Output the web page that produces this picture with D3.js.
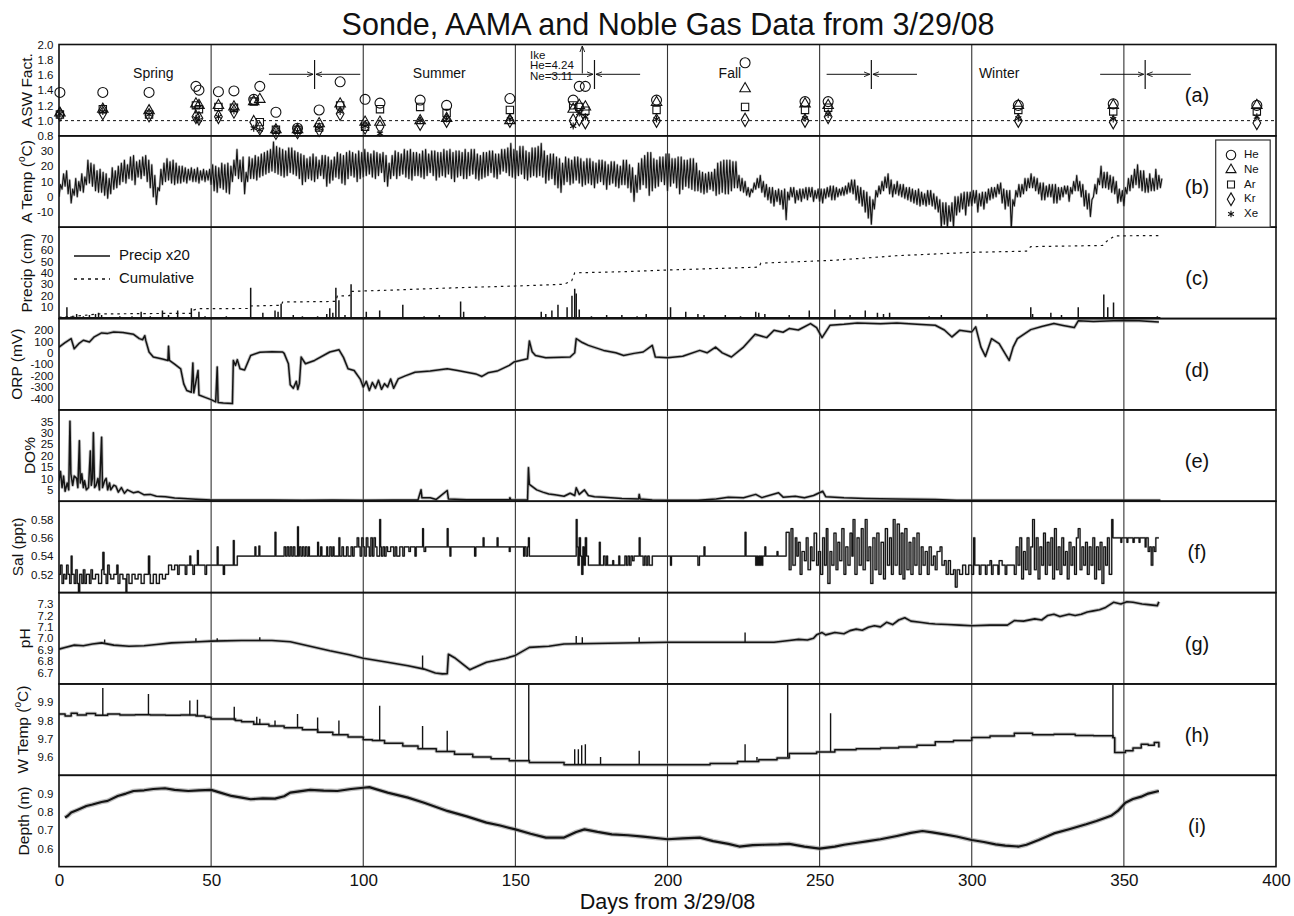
<!DOCTYPE html>
<html><head><meta charset="utf-8">
<script src="https://cdn.jsdelivr.net/npm/d3@7"></script>
<style>
body{margin:0;background:#fff}
text{font-family:"Liberation Sans",Arial,Helvetica,sans-serif;fill:#111}
</style></head>
<body><svg id="c" width="1294" height="916"></svg>
<script>
// ---------------- DATA ----------------
const title = "Sonde, AAMA and Noble Gas Data from 3/29/08";
const xTitle = "Days from 3/29/08";
const xTicks = [0,50,100,150,200,250,300,350,400];
const gridDays = [50,100,150,200,250,300,350];
const panelLetters = ["(a)","(b)","(c)","(d)","(e)","(f)","(g)","(h)","(i)"];

const ticksASW = [0.8,1.0,1.2,1.4,1.6,1.8,2.0];
const ticksATemp = [-10,0,10,20,30];
const ticksPrecip = [10,20,30,40,50,60,70];
const ticksORP = [-400,-300,-200,-100,0,100,200];
const ticksDO = [5,10,15,20,25,30,35];
const ticksSal = [0.52,0.54,0.56,0.58];
const ticksPH = [6.7,6.8,6.9,7.0,7.1,7.2,7.3];
const ticksWTemp = [9.6,9.7,9.8,9.9];
const ticksDepth = [0.6,0.7,0.8,0.9];

// (a) noble gas ASW factors
const aswDays = [0.3,14.4,29.6,45,46,52.4,57.5,64,66,71.3,78.4,85.5,92.4,100.6,105.5,118.7,127.4,148.2,169,171,173,196.4,225.5,245.2,252.8,315.3,346.5,393.7];
const aswHe = [1.37,1.37,1.37,1.45,1.40,1.38,1.39,1.28,1.45,1.11,0.90,1.14,1.51,1.28,1.23,1.27,1.20,1.29,1.27,1.45,1.45,1.27,1.76,1.25,1.25,1.20,1.22,1.20];
const aswNe = [1.10,1.15,1.13,1.22,1.20,1.20,1.18,1.25,1.28,0.88,0.88,0.96,1.22,0.98,0.98,1.00,1.03,1.00,1.15,1.20,1.18,1.24,1.42,1.22,1.20,1.20,1.20,1.20];
const aswAr = [1.08,1.15,1.08,1.20,1.15,1.18,1.17,1.25,0.98,0.88,0.88,0.91,1.20,0.92,1.15,1.18,1.10,1.14,1.20,1.18,1.13,1.14,1.18,1.14,1.17,1.14,1.12,1.12];
const aswKr = [1.08,1.10,1.07,1.05,1.03,1.05,1.12,0.98,0.90,0.84,0.85,0.88,1.09,0.91,0.92,0.96,1.00,1.00,1.00,1.02,0.98,1.00,1.01,1.00,1.05,1.00,0.98,0.97];
const aswXe = [1.09,1.12,1.08,1.03,1.01,1.05,1.13,0.90,0.88,0.85,0.86,0.90,1.12,0.93,0.83,1.00,1.02,1.02,0.93,1.10,1.05,1.02,null,1.03,1.08,1.03,1.02,1.05];
const gasNames = ["He","Ne","Ar","Kr","Xe"];
const seasonNames = ["Spring","Summer","Fall","Winter"];
const seasonNameDays = [31,125,220.5,309];
const seasonMarkDays = [84,176,267,357];
const seasonMarkFrom = [69,161.4,252.3,342.2];
const seasonMarkTo = [99,191,282,372];
const ikeDay = 172;
const ikeText = ["Ike","He=4.24","Ne=3.11"];

// (b) air temperature: daily highs and lows, day 0..362
const airTempHigh = [
8,15,17,11,5,12,10,15,13,24,
22,21,17,18,16,15,12,19,17,20,
22,24,21,26,27,23,24,26,27,24,
21,14,6,18,22,25,23,24,22,20,
20,19,18,19,18,19,17,18,17,18,
21,20,19,22,21,22,20,24,31,24,
26,16,26,25,27,26,28,29,30,31,
36,33,32,31,30,32,32,30,29,28,
27,25,26,28,26,24,27,27,26,24,
26,29,28,27,29,30,29,28,30,29,
31,29,28,30,29,28,29,27,22,27,
30,29,28,31,30,31,29,29,28,30,
31,28,30,30,29,29,31,30,31,29,
30,30,29,31,29,31,31,28,27,29,
29,30,30,28,28,31,31,32,35,31,
30,33,33,30,29,32,32,33,35,30,
27,28,28,26,25,22,26,25,24,26,
26,25,23,25,25,23,22,24,24,23,
21,23,23,21,20,24,24,21,19,14,
22,25,27,29,29,25,24,26,26,28,
28,25,25,26,26,24,24,25,25,22,
17,16,15,16,16,18,22,23,24,24,
24,23,23,14,12,10,6,5,9,12,
14,10,8,6,6,4,5,4,5,3,
6,6,4,5,5,6,6,6,4,5,
5,5,6,7,7,6,5,6,7,9,
11,11,7,6,4,3,0,-2,4,7,
10,13,15,11,8,10,8,8,6,6,
5,4,5,3,2,4,4,2,0,-2,
-4,-4,-6,-4,0,0,2,3,3,3,
4,4,2,3,3,5,6,6,8,9,
5,4,4,-2,4,8,8,12,12,15,
13,12,9,9,7,8,8,8,6,6,
7,7,6,10,14,10,8,4,2,-2,
8,12,20,16,16,14,13,10,5,4,
6,12,14,18,21,17,17,12,15,12,
18,14,12];
const airTempLow = [
0,5,7,2,-4,1,0,4,3,8,
9,7,4,3,3,1,-1,2,5,6,
8,10,9,12,11,8,13,12,14,10,
6,0,-5,4,8,10,11,9,8,9,
9,10,9,11,10,10,9,11,10,11,
8,4,3,6,5,3,2,10,14,12,
10,2,10,12,12,11,13,14,15,16,
17,16,15,14,13,14,16,15,14,12,
8,10,12,11,10,12,14,12,7,9,
11,13,12,9,8,12,14,13,10,12,
13,14,15,13,12,14,16,10,7,12,
14,12,14,15,13,12,11,14,14,13,
12,14,16,14,11,13,14,13,15,12,
10,13,14,12,12,14,15,12,11,12,
13,14,16,13,12,15,17,16,14,13,
12,14,15,12,11,13,14,13,14,13,
9,11,12,8,6,3,8,10,8,9,
11,9,7,8,9,8,6,9,10,8,
5,8,9,7,6,8,8,6,3,-3,
3,5,8,6,1,4,6,7,10,8,
4,7,9,6,2,5,7,6,5,4,
4,3,2,3,5,4,1,2,3,2,
2,4,6,6,4,3,1,0,3,5,
6,3,0,-2,-4,-6,-3,-5,-8,-15,
-2,0,-4,-2,-3,-1,-2,0,-3,-1,
-3,-4,-1,0,-2,-2,0,1,1,2,
3,2,-2,-4,-6,-10,-14,-18,-8,0,
2,4,6,2,0,2,1,0,-1,-2,
-3,-4,-5,-6,-5,-6,-5,-6,-8,-10,
-20,-18,-20,-16,-20,-12,-10,-8,-12,-6,
-6,-4,-10,-6,-8,-4,-2,-1,0,2,
-4,-8,-6,-21,-6,0,0,2,4,6,
6,4,2,-2,-2,0,0,-4,-4,-2,
0,2,-3,2,4,4,0,-6,-8,-13,
0,2,8,6,6,5,3,2,-4,-3,
-6,2,4,6,8,6,4,3,3,4,
4,5,6];

// (c) precipitation x20 spikes [day, cm] and cumulative [day, cm]
const precipSpikes = [[2.6,10],[4,2],[5.8,4],[8,2],[10,3],[12,4],[13,5],[14,3],[20,2],[24,2],[27,6],[30,2],[34,7],[36,3],[39,7],[43.5,9],[46,6],[48,2],[55,2],[63,27],[67,5],[71,7],[72,6],[73,13],[77,3],[80,2],[85,2],[88,4],[89,9],[90,5],[91,27],[92,16],[94,3],[96,30],[101,6],[105.4,7],[113,12],[120,2],[125,3],[132,15],[133,6],[140,2],[150,2],[158.5,6],[160,4],[162,7],[164,12],[167,10],[168.6,20],[169.5,26],[170,22],[171,8],[175,2],[180,3],[185,3],[190,2],[193,4],[201,10],[206,6],[210,4],[212,3],[219,3],[224,2],[229,6],[230,5],[232,4],[240,3],[246.6,7],[255,8],[260,3],[265,7],[269,5],[271,4],[273,5],[286,2],[290,3],[305,4],[319.4,10],[320,4],[326,5],[329.5,3],[335,10],[343.4,21],[344.7,10],[346.6,14],[361,2]];
const precipCumulative = [[0,1],[5,2],[13,4],[30,4.4],[43.5,4.6],[44,7.3],[46,8.7],[62.5,8.8],[63,11],[73,11.6],[73.5,14.5],[91,15],[91.5,19.8],[95.5,20],[96,23.8],[110,25],[131,27],[150,28.5],[166,30],[168.5,33],[169.5,40],[185,41],[200,42.5],[230,45],[230.7,48.5],[254.7,51],[265,53],[275,55],[300,58],[318,59],[319.4,63],[343,64],[344.5,68],[347,72.4],[361.5,72.7]];
const legendC = ["Precip x20","Cumulative"];

// (d) ORP [day, mV]
const orp = [[0,50],[2,90],[4,124],[5,36],[6.5,80],[8,110],[10,95],[11.6,140],[14,174],[16,170],[18,183],[21,178],[24.5,162],[26.4,124],[27.5,115],[28.2,150],[28.5,110],[29.6,7],[31,-37],[34,-55],[35.8,-67],[36,57],[36.3,-67],[38,-100],[40,-140],[41,-272],[42,-330],[43.5,-345],[44,-90],[44.3,-350],[45.7,-155],[46,-370],[48,-390],[50,-410],[51.5,-430],[52,-125],[52.3,-435],[54,-440],[57,-445],[57.3,-67],[58,-110],[58.6,-60],[59.5,-140],[61,-150],[63,-23],[66,5],[70,10],[73.5,7],[74,-5],[75.4,-96],[76,-280],[77,-310],[78,-250],[78.5,-320],[79,-270],[79.6,-37],[81,-96],[84,-67],[89,7],[92,27],[93.5,-40],[95,-140],[97,-155],[99,-230],[100,-300],[101,-250],[102,-330],[103,-260],[104,-310],[105,-240],[106,-320],[107,-270],[108,-300],[109,-230],[110,-310],[111.5,-228],[114,-200],[117,-170],[122,-160],[127.6,-140],[131,-155],[134,-170],[137,-185],[139,-207],[141,-175],[144,-160],[148,-110],[149.5,-81],[154,-52],[154.6,103],[155.5,10],[156.6,-23],[160,-43],[168,-37],[169.5,0],[170,124],[172,90],[174,65],[179,21],[183,0],[185.6,-23],[189,-5],[192,7],[195,65],[196,-37],[200,-43],[205,-30],[210.6,21],[213,0],[215.8,50],[218,0],[221,-37],[225,50],[228.8,162],[232.6,133],[235,197],[238,180],[240,212],[243,200],[247,256],[249,220],[250.8,133],[253.4,241],[258,250],[262.4,262],[270,255],[275.4,262],[282,250],[288,241],[291,200],[293.5,139],[296,197],[300,183],[301.3,227],[303,50],[304.5,-31],[306.5,124],[309,80],[312.3,-67],[313.6,50],[315,124],[319.4,203],[323,230],[327,256],[330,240],[333.7,221],[335,280],[340,275],[346.6,280],[350,282],[355,280],[361.5,270]];

// (e) dissolved oxygen % [day, %]
const doPct = [[0,9],[0.5,13],[1,6],[1.5,11],[2,4.4],[2.7,8],[3.2,5],[3.6,35],[3.9,12],[4.5,7],[5,11],[5.8,10],[6.2,6],[6.7,26.5],[7,8],[7.5,12],[8,6],[8.4,9],[9,5],[9.7,6],[10.3,22],[10.6,7],[11,10],[11.3,30],[11.7,6],[12.2,7],[12.8,10],[13.3,5],[14,28],[14.3,6],[15,9],[15.5,10],[16,5],[16.6,8],[17,5],[18,7],[18.7,6.6],[19.5,4],[20.5,6],[21.5,3.5],[22.5,5],[24.5,3.7],[26,4.2],[28,2.8],[30,3],[32,2.2],[35,2],[38,1.4],[41,1.2],[45,0.9],[50,0.6],[60,0.5],[70,0.5],[80,0.4],[90,0.5],[100,0.4],[110,0.5],[118,0.6],[119,5],[119.3,1.5],[122,1.5],[124,0.8],[127.6,4.7],[128,1],[134,0.7],[140,0.7],[148,0.7],[148.2,1.5],[148.5,0.7],[154,0.6],[154.3,14.7],[154.6,7.4],[155.5,6.5],[157,5],[159,4],[161,3.2],[163,2.8],[166,2.2],[168,3.5],[169.5,2.5],[170,5.9],[171,3],[172.7,5],[174,2.5],[176,2],[179,1.8],[185,1.2],[190.5,1],[190.7,3],[191,1],[195,0.6],[200,0.4],[210,0.4],[216,1],[220,1.8],[225,1.5],[229,3],[231,1.6],[236.5,3.7],[238,1.8],[242,2.2],[245,1.5],[248,2.5],[251,4.4],[252,2],[258,1.5],[265,1.2],[275,1],[288,0.8],[295,0.4],[330,0.4],[362,0.4]];

// (f) salinity [day, ppt] (step series)
const sal = [[0,0.52],[0.5,0.53],[1,0.51],[1.5,0.52],[2,0.515],[2.5,0.53],[3,0.52],[3.5,0.51],[4,0.54],[4.3,0.52],[5,0.51],[5.5,0.525],[6,0.51],[6.4,0.50],[6.8,0.52],[7.5,0.51],[8,0.525],[8.5,0.51],[9,0.52],[10,0.51],[10.5,0.525],[11,0.515],[12,0.52],[13,0.51],[14,0.525],[14.4,0.544],[14.8,0.52],[15.5,0.51],[16,0.53],[16.5,0.52],[17,0.515],[18,0.52],[19,0.53],[19.4,0.51],[20,0.52],[21,0.515],[22,0.501],[22.3,0.52],[23,0.51],[24,0.52],[25,0.515],[26,0.52],[27,0.51],[28,0.52],[29.4,0.54],[29.8,0.52],[30,0.51],[31,0.52],[32,0.51],[33,0.52],[34,0.515],[35,0.52],[36,0.53],[37,0.525],[38,0.53],[39,0.52],[39.5,0.53],[41,0.53],[41.5,0.52],[42,0.53],[43,0.54],[43.3,0.53],[44,0.52],[44.5,0.53],[45.5,0.546],[45.8,0.53],[47,0.53],[48,0.52],[48.5,0.53],[50,0.53],[52,0.55],[52.3,0.53],[54,0.52],[54.4,0.53],[57.3,0.557],[57.6,0.53],[58.6,0.54],[64.4,0.55],[64.7,0.54],[65.7,0.551],[66,0.54],[71,0.566],[71.3,0.54],[74,0.55],[74.5,0.54],[75,0.55],[75.5,0.54],[76,0.55],[76.5,0.54],[77,0.55],[77.5,0.54],[78.4,0.572],[78.7,0.54],[79,0.55],[79.5,0.54],[80,0.55],[80.5,0.54],[81,0.55],[81.5,0.54],[82,0.55],[82.3,0.54],[85,0.555],[85.3,0.54],[86,0.55],[86.4,0.54],[88,0.55],[88.3,0.54],[89,0.55],[89.5,0.54],[90,0.55],[90.4,0.54],[92,0.56],[92.3,0.54],[93,0.55],[93.5,0.54],[94.5,0.55],[95,0.54],[96,0.55],[96.5,0.54],[97,0.55],[98,0.56],[98.5,0.55],[99,0.54],[99.5,0.56],[100,0.55],[100.5,0.54],[101,0.56],[101.5,0.55],[102,0.54],[102.5,0.56],[103,0.54],[103.5,0.56],[104,0.55],[104.5,0.54],[105.4,0.58],[105.7,0.55],[106,0.54],[106.5,0.55],[107,0.54],[107.5,0.55],[108,0.545],[109,0.55],[110,0.54],[110.5,0.55],[111,0.54],[112,0.55],[113,0.54],[113.5,0.55],[115,0.545],[115.5,0.55],[117,0.54],[117.4,0.55],[119.5,0.57],[119.8,0.55],[120,0.545],[120.5,0.55],[127.6,0.57],[127.9,0.55],[128.5,0.54],[128.8,0.55],[136.6,0.54],[137,0.55],[139.4,0.56],[139.7,0.55],[144,0.56],[144.3,0.55],[148,0.545],[148.3,0.55],[152.7,0.54],[153,0.55],[153.5,0.54],[154,0.55],[154.3,0.56],[154.6,0.54],[170,0.58],[170.3,0.55],[170.6,0.53],[171,0.56],[171.4,0.54],[171.8,0.52],[172.2,0.55],[172.6,0.53],[173,0.56],[173.4,0.54],[174,0.53],[177.6,0.555],[177.9,0.53],[179,0.54],[179.5,0.53],[180,0.54],[180.3,0.53],[182,0.535],[182.3,0.53],[184,0.54],[184.3,0.53],[186,0.54],[186.5,0.53],[187,0.54],[187.5,0.53],[188,0.54],[188.5,0.535],[189,0.54],[190.7,0.56],[191,0.54],[192,0.53],[192.5,0.54],[193,0.53],[193.5,0.54],[194,0.53],[195,0.54],[200,0.54],[201,0.53],[201.3,0.54],[210,0.53],[210.5,0.54],[212,0.55],[212.3,0.54],[225.5,0.566],[225.8,0.54],[229,0.53],[229.3,0.54],[229.6,0.53],[230,0.54],[230.3,0.53],[230.6,0.54],[231,0.53],[231.3,0.54],[232,0.55],[232.3,0.54],[236,0.545],[236.3,0.54],[239,0.566],[240,0.525],[240.6,0.57],[241.2,0.53],[242,0.56],[242.5,0.54],[243,0.555],[243.6,0.52],[244.2,0.545],[245,0.535],[245.6,0.56],[246.2,0.525],[247,0.55],[247.5,0.535],[248.2,0.565],[249,0.53],[249.6,0.545],[250.3,0.52],[251,0.56],[251.6,0.53],[252.2,0.57],[252.7,0.51],[253.4,0.545],[254,0.53],[254.7,0.565],[255.4,0.525],[256,0.555],[256.6,0.535],[257.3,0.57],[258,0.52],[258.6,0.55],[259.3,0.53],[260,0.565],[260.6,0.54],[261,0.58],[261.6,0.52],[262.3,0.56],[263,0.53],[263.7,0.57],[264.3,0.525],[265,0.58],[265.6,0.535],[266.2,0.55],[266.8,0.51],[267.5,0.56],[268.2,0.525],[268.8,0.565],[269.5,0.52],[270.2,0.555],[271,0.515],[271.6,0.57],[272.3,0.53],[273,0.56],[273.6,0.52],[274.2,0.58],[274.8,0.53],[275.5,0.575],[276.2,0.52],[276.8,0.565],[277.4,0.515],[278,0.57],[278.7,0.525],[279.4,0.555],[280,0.52],[280.7,0.56],[281.3,0.53],[282,0.565],[282.7,0.52],[283.4,0.55],[284,0.53],[284.7,0.545],[285.4,0.52],[286,0.55],[286.7,0.53],[287.4,0.54],[288,0.525],[288.6,0.545],[289.6,0.55],[290.2,0.53],[291,0.535],[291.6,0.52],[292.3,0.535],[293,0.52],[294,0.525],[294.6,0.506],[295.2,0.525],[296,0.52],[297,0.53],[298,0.52],[299,0.53],[300,0.52],[300.6,0.56],[301,0.53],[302,0.53],[302.5,0.52],[303,0.53],[304,0.53],[304.5,0.52],[305,0.53],[306,0.535],[306.5,0.52],[307,0.53],[308,0.53],[308.6,0.52],[309,0.535],[310,0.53],[311,0.52],[311.5,0.53],[314,0.52],[314.6,0.55],[315.2,0.53],[315.8,0.56],[316.4,0.515],[317,0.545],[317.6,0.525],[318.2,0.56],[318.8,0.52],[319.4,0.55],[320,0.58],[320.6,0.525],[321.2,0.56],[321.8,0.515],[322.4,0.55],[323,0.53],[323.6,0.565],[324.2,0.52],[324.8,0.555],[325.4,0.53],[326,0.56],[326.6,0.515],[327.2,0.57],[327.8,0.525],[328.4,0.55],[329,0.52],[329.6,0.56],[330.2,0.53],[330.8,0.545],[331.4,0.515],[332,0.555],[332.6,0.53],[333.2,0.55],[333.8,0.52],[334.4,0.56],[335,0.57],[335.6,0.525],[336.2,0.55],[336.8,0.53],[337.4,0.555],[338,0.52],[338.6,0.55],[339.2,0.53],[339.8,0.56],[340.4,0.515],[341,0.55],[341.6,0.525],[342.2,0.555],[342.8,0.51],[343.4,0.55],[344,0.53],[344.6,0.56],[345.2,0.52],[346,0.58],[346.4,0.56],[349,0.555],[349.3,0.56],[351,0.555],[351.3,0.56],[353,0.555],[353.4,0.56],[355,0.555],[355.3,0.56],[357,0.55],[357.3,0.56],[358,0.545],[358.5,0.55],[359,0.53],[359.5,0.55],[360,0.545],[360.5,0.56],[361.5,0.56]];

// (g) pH [day, pH] and spikes [day, base, peak]
const ph = [[0,6.905],[2,6.92],[5,6.94],[8,6.935],[11,6.95],[14,6.96],[18,6.94],[23,6.93],[28,6.935],[32,6.945],[37,6.96],[42,6.965],[46,6.97],[50,6.975],[60,6.98],[70,6.98],[76,6.97],[82.5,6.93],[89,6.89],[95.4,6.855],[100,6.825],[108,6.79],[114.7,6.76],[120,6.73],[123.7,6.696],[126,6.688],[127.6,6.69],[128,6.86],[130,6.83],[135,6.725],[140.5,6.79],[147,6.825],[150,6.85],[154.6,6.92],[161,6.93],[166,6.95],[200,6.965],[235,6.965],[240,6.98],[243,6.99],[246,6.985],[248,7.0],[249,7.03],[250.8,7.05],[252,7.03],[255,7.05],[258,7.04],[260,7.067],[262,7.08],[264,7.07],[266,7.096],[268,7.11],[270,7.1],[272,7.14],[274,7.12],[276,7.16],[278,7.18],[280,7.15],[283,7.14],[286,7.13],[288,7.125],[292,7.12],[296,7.115],[300,7.11],[306,7.115],[311.7,7.115],[314,7.155],[317,7.15],[320.7,7.17],[323,7.16],[325,7.2],[327,7.21],[329,7.19],[332,7.21],[334,7.2],[336,7.21],[338,7.23],[340,7.24],[342,7.25],[344,7.27],[346.6,7.315],[349,7.3],[351,7.32],[353,7.315],[356,7.3],[358,7.295],[361,7.286],[361.5,7.32]];
const phSpikes = [[15,6.96,6.99],[45,6.97,7.0],[52,6.975,7.0],[66,6.98,7.01],[119.5,6.73,6.85],[170,6.955,7.02],[172,6.955,7.01],[190.7,6.96,7.01],[225.5,6.965,7.05]];

// (h) water temperature [day, °C] and spikes [day, base, peak]
const wTemp = [[0,9.835],[2,9.825],[4,9.84],[6,9.83],[9,9.838],[12,9.828],[16,9.835],[20,9.83],[25,9.832],[30,9.83],[35,9.828],[40,9.83],[45,9.825],[48,9.818],[50,9.808],[58,9.8],[60,9.793],[64,9.78],[69,9.77],[74,9.76],[80,9.75],[85,9.735],[90,9.722],[95,9.71],[100,9.695],[103,9.69],[107,9.676],[113,9.66],[118,9.645],[124,9.63],[130,9.615],[136,9.6],[142,9.59],[148,9.58],[154.6,9.57],[166,9.558],[212,9.558],[214,9.565],[223,9.575],[230,9.585],[236,9.595],[240,9.62],[249,9.628],[255,9.64],[262,9.645],[270,9.65],[276,9.655],[282,9.665],[288,9.683],[294,9.69],[300,9.707],[306,9.715],[314,9.73],[320,9.722],[327,9.725],[334,9.718],[340,9.716],[346.4,9.705],[347,9.625],[350.5,9.634],[353,9.65],[355.7,9.67],[358,9.665],[360,9.68],[361.5,9.652]];
const wTempSpikes = [[14.4,9.83,9.978],[29.4,9.83,9.945],[43,9.828,9.91],[45.5,9.825,9.914],[57.6,9.8,9.875],[65,9.78,9.82],[66,9.78,9.81],[71,9.77,9.80],[78.4,9.76,9.835],[85,9.735,9.817],[92,9.722,9.8],[105.4,9.69,9.88],[119.5,9.645,9.77],[127.6,9.63,9.744],[154.4,9.58,9.995],[169.5,9.558,9.643],[170.7,9.558,9.643],[171.8,9.558,9.665],[173,9.558,9.67],[178,9.558,9.6],[190.7,9.558,9.634],[225.5,9.575,9.67],[229.4,9.58,9.6],[239.5,9.6,9.995],[253.6,9.628,9.84],[346.4,9.705,9.995]];

// (i) depth [day, m]
const depth = [[2,0.768],[3,0.78],[4,0.796],[6,0.81],[9,0.832],[11,0.84],[14,0.854],[16,0.86],[19.3,0.887],[22,0.9],[24.5,0.914],[28,0.918],[31,0.925],[34.8,0.929],[38,0.92],[42.5,0.914],[46,0.918],[50,0.92],[53,0.905],[56.7,0.887],[60,0.878],[63,0.869],[67,0.874],[71,0.872],[74,0.885],[76,0.905],[79,0.912],[82.5,0.92],[87,0.916],[91.5,0.914],[96,0.925],[100,0.932],[102,0.935],[104.4,0.923],[108,0.905],[114.7,0.878],[120,0.85],[127.6,0.805],[134,0.775],[140.5,0.741],[145,0.725],[150,0.704],[155,0.68],[160,0.659],[166,0.659],[170,0.69],[172.7,0.704],[177,0.69],[181.7,0.677],[187,0.672],[192,0.664],[200,0.65],[205,0.655],[210.6,0.659],[215,0.64],[220,0.625],[223.6,0.61],[228,0.618],[232,0.62],[236.5,0.622],[240,0.625],[245,0.61],[250,0.599],[255,0.61],[258,0.62],[262.4,0.631],[266,0.64],[270,0.65],[275.4,0.668],[280,0.685],[283.8,0.695],[287,0.688],[291,0.677],[295,0.665],[300,0.646],[304,0.635],[307.8,0.622],[311,0.615],[315.5,0.61],[318,0.62],[322,0.646],[327,0.682],[332,0.705],[337.6,0.732],[341,0.75],[344,0.768],[346,0.78],[348,0.805],[350.5,0.85],[353,0.87],[355.7,0.883],[358,0.9],[361.5,0.914]];

// ---------------- LAYOUT ----------------
const svg = d3.select("#c");
const L = 59, R = 1276, T = 44.5, PH = 91.35, NP = 9;
const B = T + PH*NP;
const x = d3.scaleLinear().domain([0,400]).range([L,R]);
const domains = [[0.8,2.0],[-20,40],[0,80],[-500,300],[0,40],[0.5,0.6],[6.6,7.4],[9.5,10.0],[0.5,1.0]];
const tickSets = [ticksASW,ticksATemp,ticksPrecip,ticksORP,ticksDO,ticksSal,ticksPH,ticksWTemp,ticksDepth];
const fmts = [d=>d.toFixed(1),d=>String(d),d=>String(d),d=>String(d),d=>String(d),d=>d.toFixed(2),d=>d.toFixed(1),d=>d.toFixed(1),d=>d.toFixed(1)];
const yLabelX = [27.5,28,27.5,17.5,31,19,26,24,25];
const pTop = i => T + i*PH;
const ys = domains.map((dm,i)=>d3.scaleLinear().domain(dm).range([pTop(i)+PH, pTop(i)]));

const defs = svg.append("defs");
for(let i=0;i<NP;i++){
  defs.append("clipPath").attr("id","cp"+i).append("rect")
    .attr("x",L).attr("y",pTop(i)).attr("width",R-L).attr("height",PH);
}
const mk = defs.append("marker").attr("id","arr").attr("viewBox","0 0 10 10").attr("refX",10).attr("refY",5)
  .attr("markerWidth",6).attr("markerHeight",6).attr("orient","auto-start-reverse");
mk.append("path").attr("d","M0,1 L10,5 L0,9").attr("fill","none").attr("stroke","#111").attr("stroke-width",1.5);

svg.append("text").attr("x",668).attr("y",35).attr("text-anchor","middle")
  .style("font-size","30.5px").text(title);

svg.append("g").selectAll("line").data(gridDays).join("line")
  .attr("x1",d=>x(d)).attr("x2",d=>x(d)).attr("y1",T).attr("y2",B)
  .attr("stroke","#333").attr("stroke-width",1.1);

const lineOf = (ys_, curve) => d3.line().x(d=>x(d[0])).y(d=>ys_(d[1])).curve(curve||d3.curveLinear);

function drawSeries(i, data, core, halo, curve){
  const g = svg.append("g").attr("clip-path",`url(#cp${i})`);
  const ln = lineOf(ys[i], curve);
  g.append("path").datum(data).attr("d",ln).attr("fill","none")
    .attr("stroke","#8a8a8a").attr("stroke-width",halo).attr("stroke-opacity",0.55).attr("stroke-linejoin","round");
  g.append("path").datum(data).attr("d",ln).attr("fill","none")
    .attr("stroke","#141414").attr("stroke-width",core).attr("stroke-linejoin","round");
  return g;
}
function drawSpikes(i, spikes){
  const g = svg.append("g").attr("clip-path",`url(#cp${i})`);
  g.selectAll("line").data(spikes).join("line")
    .attr("x1",d=>x(d[0])).attr("x2",d=>x(d[0]))
    .attr("y1",d=>ys[i](d[1])).attr("y2",d=>ys[i](d[2]))
    .attr("stroke","#141414").attr("stroke-width",1.4);
}

svg.append("line").attr("x1",L).attr("x2",R).attr("y1",ys[0](1.0)).attr("y2",ys[0](1.0))
  .attr("stroke","#111").attr("stroke-width",1).attr("stroke-dasharray","3,3");

const airTempPts = airTempHigh.flatMap((h,d)=>[[d,airTempLow[d]],[d+0.5,h]]);
drawSeries(1, airTempPts, 1.1, 2.4);
{
  const g = svg.append("g").attr("clip-path","url(#cp2)");
  g.selectAll("line").data(precipSpikes).join("line")
    .attr("x1",d=>x(d[0])).attr("x2",d=>x(d[0])).attr("y1",ys[2](0)).attr("y2",d=>ys[2](d[1]))
    .attr("stroke","#141414").attr("stroke-width",1.5);
  g.append("path").datum(precipCumulative).attr("d",lineOf(ys[2])).attr("fill","none")
    .attr("stroke","#141414").attr("stroke-width",1.2).attr("stroke-dasharray","2.5,4");
  g.append("line").attr("x1",x(0)).attr("x2",x(362)).attr("y1",ys[2](0)-1).attr("y2",ys[2](0)-1)
    .attr("stroke","#141414").attr("stroke-width",1.2);
}
drawSeries(3, orp, 1.5, 3.2);
drawSeries(4, doPct, 1.5, 3.2);
drawSeries(5, sal, 1.2, 2.0, d3.curveStepAfter);
drawSeries(6, ph, 1.6, 3.6);
drawSpikes(6, phSpikes);
drawSeries(7, wTemp, 1.5, 3.4, d3.curveStepAfter);
drawSpikes(7, wTempSpikes);
drawSeries(8, depth, 2.2, 4.6);

const gasVals = [aswHe, aswNe, aswAr, aswKr, aswXe];
const syms = [d3.symbolCircle, d3.symbolTriangle, d3.symbolSquare, d3.symbolDiamond, d3.symbolAsterisk || d3.symbolStar];
const sizes = [78, 48, 54, 52, 34];
const ga = svg.append("g");
gasVals.forEach((vals,gi)=>{
  const pts = aswDays.map((d,k)=>[d,vals[k]]).filter(p=>p[1]!=null);
  ga.append("g").selectAll("path").data(pts).join("path")
    .attr("transform",p=>`translate(${x(p[0])},${ys[0](p[1])})`)
    .attr("d",d3.symbol().type(syms[gi]).size(sizes[gi]))
    .attr("fill", "none").attr("stroke","#111").attr("stroke-width",1.1);
});

seasonNames.forEach((s,k)=>{
  svg.append("text").attr("x",x(seasonNameDays[k])).attr("y",78).attr("text-anchor","middle")
    .style("font-size","14px").text(s);
});
seasonMarkDays.forEach((d,k)=>{
  const yy = 74.3;
  svg.append("line").attr("x1",x(d)).attr("x2",x(d)).attr("y1",60).attr("y2",89).attr("stroke","#111").attr("stroke-width",1.2);
  svg.append("line").attr("x1",x(seasonMarkFrom[k])).attr("x2",x(d)-1.5).attr("y1",yy).attr("y2",yy)
    .attr("stroke","#111").attr("stroke-width",1).attr("marker-end","url(#arr)");
  svg.append("line").attr("x1",x(seasonMarkTo[k])).attr("x2",x(d)+1.5).attr("y1",yy).attr("y2",yy)
    .attr("stroke","#111").attr("stroke-width",1).attr("marker-end","url(#arr)");
});
svg.append("line").attr("x1",x(ikeDay)).attr("x2",x(ikeDay)).attr("y1",73.5).attr("y2",46)
  .attr("stroke","#111").attr("stroke-width",1).attr("marker-end","url(#arr)");
ikeText.forEach((t,k)=>{
  svg.append("text").attr("x",530).attr("y",59+k*10.3).style("font-size","11.5px").text(t);
});

for(let i=0;i<NP;i++){
  svg.append("rect").attr("x",L).attr("y",pTop(i)).attr("width",R-L).attr("height",PH)
    .attr("fill","none").attr("stroke","#111").attr("stroke-width",1.6);
}

for(let i=0;i<NP;i++){
  const ax = svg.append("g").attr("transform",`translate(${L},0)`)
    .call(d3.axisLeft(ys[i]).tickValues(tickSets[i]).tickFormat(fmts[i]).tickSize(0).tickPadding(5.5));
  ax.select(".domain").remove();
  ax.selectAll("text").style("font-size","11.5px").style("font-family",'"Liberation Sans",Arial,sans-serif').attr("fill","#111");
}
const xa = svg.append("g").attr("transform",`translate(0,${B})`)
  .call(d3.axisBottom(x).tickValues(xTicks).tickFormat(d=>String(d)).tickSize(0).tickPadding(7));
xa.select(".domain").remove();
xa.selectAll("text").style("font-size","17px").style("font-family",'"Liberation Sans",Arial,sans-serif').attr("fill","#111");
svg.append("text").attr("x",x(200)).attr("y",909).attr("text-anchor","middle").style("font-size","21.5px").text(xTitle);

const yLabelParts = [
  [["ASW Fact.",false]],
  [["A Temp (",false],["o",true],["C)",false]],
  [["Precip (cm)",false]],
  [["ORP (mV)",false]],
  [["DO%",false]],
  [["Sal (ppt)",false]],
  [["pH",false]],
  [["W Temp (",false],["o",true],["C)",false]],
  [["Depth (m)",false]]
];
yLabelParts.forEach((parts,i)=>{
  const cy = pTop(i)+PH/2;
  const t = svg.append("text").attr("transform",`translate(${yLabelX[i]},${cy}) rotate(-90)`)
    .attr("text-anchor","middle").attr("dominant-baseline","middle").style("font-size","15.5px");
  parts.forEach(([s,sup])=>{
    const ts = t.append("tspan").text(s);
    if(sup) ts.attr("baseline-shift","super").style("font-size","10px");
  });
});

panelLetters.forEach((s,i)=>{
  svg.append("text").attr("x",1197).attr("y",pTop(i)+PH/2+7).attr("text-anchor","middle")
    .attr("dominant-baseline","middle").style("font-size","20px").text(s);
});

{
  const bx=1215.7, by=140, bw=54.5, bh=pTop(2)-140;
  svg.append("rect").attr("x",bx).attr("y",by).attr("width",bw).attr("height",bh)
    .attr("fill","#fff").attr("stroke","#333").attr("stroke-width",1.2);
  gasNames.forEach((n,k)=>{
    const yy = 155 + k*14.75;
    svg.append("path").attr("transform",`translate(1231,${yy})`)
      .attr("d",d3.symbol().type(syms[k]).size(sizes[k]*0.9))
      .attr("fill",k===4?"#111":"none").attr("stroke","#111").attr("stroke-width",1.1);
    svg.append("text").attr("x",1244).attr("y",yy).attr("dominant-baseline","middle")
      .style("font-size","11.5px").text(n);
  });
}
{
  svg.append("line").attr("x1",74).attr("x2",110).attr("y1",256).attr("y2",256).attr("stroke","#111").attr("stroke-width",1.3);
  svg.append("line").attr("x1",74).attr("x2",110).attr("y1",279).attr("y2",279).attr("stroke","#111").attr("stroke-width",1.3).attr("stroke-dasharray","3,4");
  legendC.forEach((s,k)=>{
    svg.append("text").attr("x",119).attr("y",256+k*23).attr("dominant-baseline","middle").style("font-size","15px").text(s);
  });
}
</script></body></html>
